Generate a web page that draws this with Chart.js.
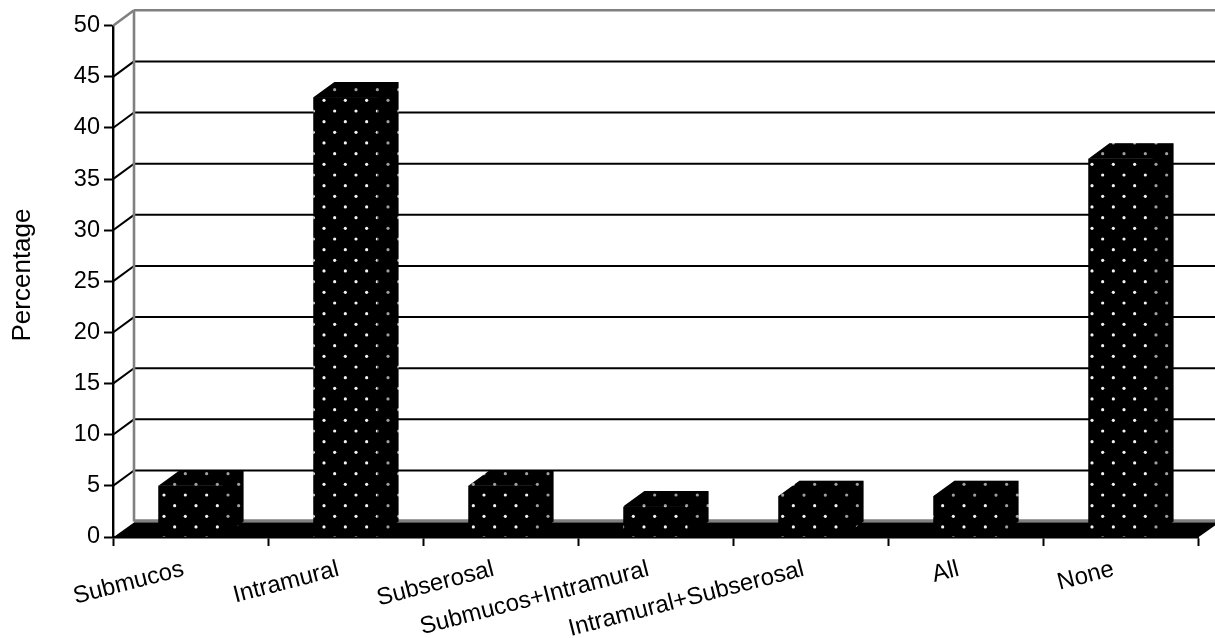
<!DOCTYPE html>
<html>
<head>
<meta charset="utf-8">
<title>Percentage</title>
<script src="https://cdn.jsdelivr.net/npm/chart.js@4"></script>
<style>
  html, body { margin: 0; padding: 0; background: #fff; overflow: hidden; }
  canvas { display: block; }
</style>
</head>
<body>
<canvas id="grafica" width="1215" height="638"></canvas>
<script>
const categories = ["Submucos", "Intramural", "Subserosal", "Submucos+Intramural", "Intramural+Subserosal", "All", "None"];
const values = [5, 43, 5, 3, 4, 4, 37];
const yTicks = [0, 5, 10, 15, 20, 25, 30, 35, 40, 45, 50];
const yTitle = "Percentage";

const depthX = 21;
const depthY = 15.4;
const fontFamily = '"Liberation Sans", Arial, sans-serif';

function dotPattern() {
  // 3 x 6 dots in a 64px tile gives the 21.33 / 10.67 spacing of the picture
  const tile = document.createElement("canvas");
  tile.width = 64;
  tile.height = 64;
  const c = tile.getContext("2d");
  c.fillStyle = "#000";
  c.fillRect(0, 0, 64, 64);
  c.fillStyle = "#f4f4f4";
  for (let row = 0; row < 6; row++) {
    for (let col = 0; col < 3; col++) {
      const px = 4 + col * 21.33 + (row % 2 ? 0 : 10.67);
      const py = 4.3 + row * 10.67;
      c.beginPath();
      c.arc(px, py, 1.6, 0, Math.PI * 2);
      c.fill();
    }
  }
  return c.createPattern(tile, "repeat");
}

const ctx = document.getElementById("grafica").getContext("2d");
const pattern = dotPattern();

function poly(c, pts, fill) {
  c.beginPath();
  pts.forEach((p, i) => (i ? c.lineTo(p[0], p[1]) : c.moveTo(p[0], p[1])));
  c.closePath();
  c.fillStyle = fill;
  c.fill();
}

function line(c, x1, y1, x2, y2, color, width) {
  c.beginPath();
  c.moveTo(x1, y1);
  c.lineTo(x2, y2);
  c.strokeStyle = color;
  c.lineWidth = width;
  c.stroke();
}

// back wall, floor and the depth faces of the bars, all placed from the scales
const depth3d = {
  id: "depth3d",
  beforeDatasetsDraw(chart) {
    const c = chart.ctx;
    const y = chart.scales.y;
    const a = chart.chartArea;
    const y0 = y.getPixelForValue(0);
    c.save();
    yTicks.forEach((v) => {
      const py = y.getPixelForValue(v);
      if (v > 0) {
        const top = v === 50;
        line(c, a.left + depthX, py - depthY, a.right + depthX, py - depthY, top ? "#808080" : "#000", top ? 2.6 : 2);
        line(c, a.left, py, a.left + depthX, py - depthY, top ? "#808080" : "#000", top ? 2.6 : 2);
      }
    });
    const backTop = y.getPixelForValue(50) - depthY;
    line(c, a.left + depthX, backTop, a.left + depthX, y0 - depthY, "#808080", 2.6);
    line(c, a.left + depthX, y0 - depthY - 0.6, a.right + depthX, y0 - depthY - 0.6, "#808080", 3.3);
    poly(c, [[a.left, y0 + 0.5], [a.left + depthX, y0 - depthY + 1], [a.right + depthX, y0 - depthY + 1], [a.right, y0 + 0.5]], "#000");

    chart.getDatasetMeta(0).data.forEach((bar) => {
      const half = bar.width / 2;
      const left = bar.x - half;
      const right = bar.x + half;
      const faces = [
        [left, bar.y], [left + depthX, bar.y - depthY], [right + depthX, bar.y - depthY],
        [right + depthX, y0 - depthY], [right, y0], [right, bar.y],
      ];
      poly(c, faces, pattern);
      poly(c, faces, "rgba(0,0,0,0.35)");
      // black under the front face so no seam shows along the edges
      poly(c, [[left, bar.y], [right + 1, bar.y], [right + 1, y0], [left, y0]], "#000");
    });
    c.restore();
  },
  afterDraw(chart) {
    const c = chart.ctx;
    c.save();
    c.translate(23, 275);
    c.rotate(-Math.PI / 2);
    c.font = "26px " + fontFamily;
    c.fillStyle = "#000";
    c.textAlign = "center";
    c.textBaseline = "middle";
    c.fillText(yTitle, 0, 0);
    c.restore();
  },
};

new Chart(ctx, {
  type: "bar",
  data: {
    labels: categories,
    datasets: [
      {
        label: "Percentage",
        data: values,
        backgroundColor: pattern,
        borderWidth: 0,
        barPercentage: 0.413,
        categoryPercentage: 1,
      },
    ],
  },
  options: {
    responsive: false,
    animation: false,
    layout: { padding: { top: 25.7, right: 17, left: 0, bottom: 0 } },
    plugins: {
      legend: { display: false },
      tooltip: { enabled: false },
    },
    scales: {
      x: {
        type: "category",
        offset: true,
        afterFit: (s) => { s.height = 101; },
        grid: {
          offset: true,
          drawOnChartArea: false,
          drawTicks: true,
          tickLength: 9,
          tickWidth: 2,
          tickColor: "#000",
        },
        border: { display: true, color: "#000", width: 2.4 },
        ticks: {
          color: "#000",
          minRotation: 14.5,
          maxRotation: 14.5,
          autoSkip: false,
          padding: 9,
          labelOffset: -7,
          font: { family: fontFamily, size: 24 },
        },
      },
      y: {
        type: "linear",
        min: 0,
        max: 50,
        afterFit: (s) => { s.width = 113; },
        afterBuildTicks: (s) => { s.ticks = yTicks.map((v) => ({ value: v })); },
        grid: {
          drawOnChartArea: false,
          drawTicks: true,
          tickLength: 9,
          tickWidth: 2,
          tickColor: "#000",
        },
        border: { display: true, color: "#000", width: 2.4 },
        ticks: {
          color: "#000",
          padding: 4,
          font: { family: fontFamily, size: 23.5 },
        },
      },
    },
  },
  plugins: [depth3d],
});
</script>
</body>
</html>
